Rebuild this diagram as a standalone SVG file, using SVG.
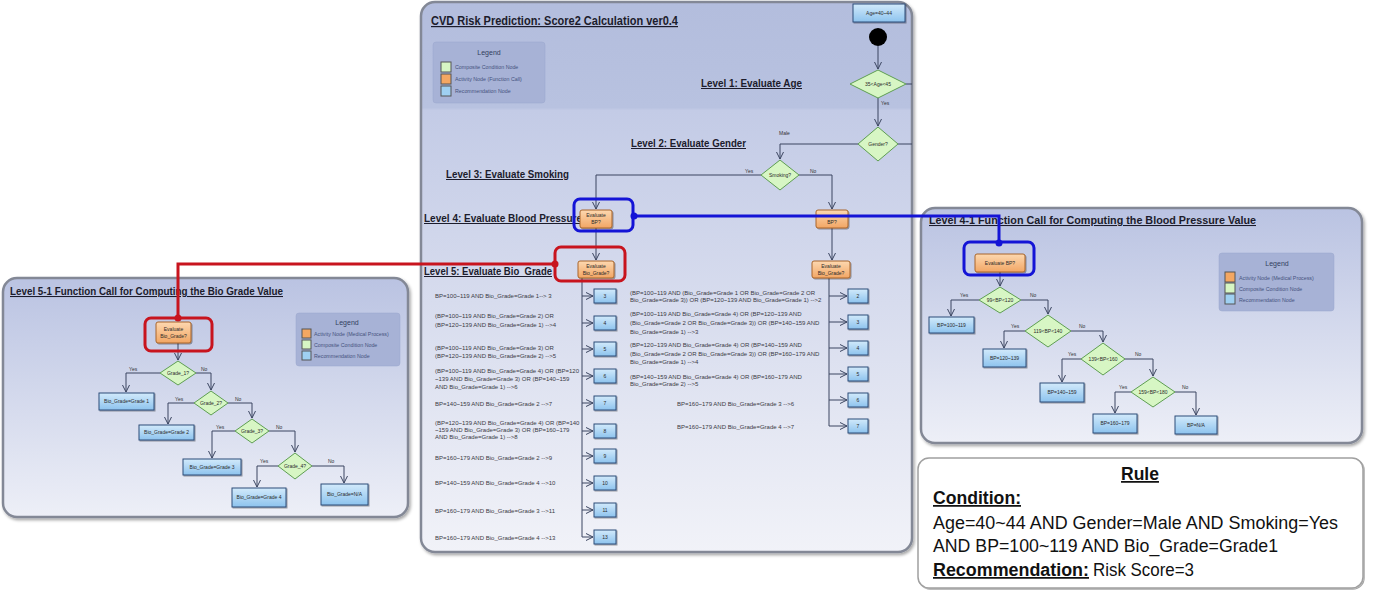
<svg xmlns="http://www.w3.org/2000/svg" width="1375" height="596" viewBox="0 0 1375 596">
<defs>
<linearGradient id="gC" x1="0" y1="0" x2="0" y2="1">
<stop offset="0" stop-color="#b3bddd"/><stop offset="0.192" stop-color="#b8c2e0"/><stop offset="0.197" stop-color="#c3cbe6"/><stop offset="1" stop-color="#f1f2f8"/>
</linearGradient>
<linearGradient id="gP" x1="0" y1="0" x2="0" y2="1"><stop offset="0" stop-color="#bac3e2"/><stop offset="1" stop-color="#edeff7"/></linearGradient>
<linearGradient id="gOr" x1="0" y1="0" x2="0" y2="1"><stop offset="0" stop-color="#fdd8b0"/><stop offset="1" stop-color="#f2a664"/></linearGradient>
<linearGradient id="gBl" x1="0" y1="0" x2="0" y2="1"><stop offset="0" stop-color="#d2eafb"/><stop offset="1" stop-color="#8dc3ee"/></linearGradient>
<filter id="sh" x="-5%" y="-5%" width="112%" height="115%"><feDropShadow dx="1.5" dy="2" stdDeviation="1.5" flood-color="#000" flood-opacity="0.35"/></filter>
<filter id="shs" x="-20%" y="-20%" width="150%" height="160%"><feDropShadow dx="1" dy="1" stdDeviation="0.6" flood-color="#000" flood-opacity="0.35"/></filter>
<marker id="ar" markerUnits="userSpaceOnUse" markerWidth="9" markerHeight="9" refX="8" refY="4.5" orient="auto"><path d="M1,1 L8,4.5 L1,8" fill="none" stroke="#3b4560" stroke-width="1"/></marker>
</defs>
<style>
.panel{stroke:#838896;stroke-width:2.5;filter:url(#sh)}
.ttl{font-family:"Liberation Sans",Arial,sans-serif;font-weight:bold;fill:#1c1c2c;text-decoration:underline}
.act{fill:url(#gOr);stroke:#a8642a;stroke-width:1;filter:url(#shs)}
.cond{fill:#d7f6c4;stroke:#5e9e52;stroke-width:1}
.rec{fill:url(#gBl);stroke:#2d4c78;stroke-width:1;filter:url(#shs)}
.nt{font-family:"Liberation Sans",Arial,sans-serif;font-size:5px;fill:#2a2a2a;text-anchor:middle}
.rt{font-family:"Liberation Sans",Arial,sans-serif;font-size:6px;fill:#3a3a44}
.lb{font-family:"Liberation Sans",Arial,sans-serif;font-size:5px;fill:#333}
.conn{fill:none;stroke:#3b4560;stroke-width:1}
.arr{marker-end:url(#ar)}
.leg{fill:#a7b2d6;stroke:#9aa6cc;stroke-width:0.5}
.legh{font-family:"Liberation Sans",Arial,sans-serif;font-size:7px;fill:#33405e;text-anchor:middle}
.legt{font-family:"Liberation Sans",Arial,sans-serif;font-size:5.3px;fill:#46527e}
.hb{fill:none;stroke:#1414d6;stroke-width:3}
.hr{fill:none;stroke:#c8141e;stroke-width:3}
.rule{font-family:"Liberation Sans",Arial,sans-serif;font-size:17.5px;fill:#111}
</style>
<rect width="1375" height="596" fill="#ffffff"/>

<!-- Panels -->
<g id="panel-left"><rect class="panel" x="3" y="278" width="405" height="239" rx="14" fill="url(#gP)"/>
<text class="ttl" x="10" y="295" font-size="10.5" textLength="273" lengthAdjust="spacingAndGlyphs">Level 5-1 Function Call for Computing the Bio Grade Value</text></g>
<g id="panel-center"><rect class="panel" x="421" y="2" width="491" height="550" rx="14" fill="url(#gC)"/>
<text class="ttl" x="431" y="25" font-size="12" textLength="247" lengthAdjust="spacingAndGlyphs">CVD Risk Prediction: Score2 Calculation ver0.4</text>
<text class="ttl" x="701" y="87" font-size="10" textLength="101" lengthAdjust="spacingAndGlyphs">Level 1: Evaluate Age</text>
<text class="ttl" x="631" y="147" font-size="10" textLength="115" lengthAdjust="spacingAndGlyphs">Level 2: Evaluate Gender</text>
<text class="ttl" x="446" y="178" font-size="10" textLength="123" lengthAdjust="spacingAndGlyphs">Level 3: Evaluate Smoking</text>
<text class="ttl" x="424" y="222" font-size="10" textLength="158" lengthAdjust="spacingAndGlyphs">Level 4: Evaluate Blood Pressure</text>
<text class="ttl" x="424" y="275" font-size="10" textLength="128" lengthAdjust="spacingAndGlyphs">Level 5: Evaluate Bio_Grade</text>
</g>
<g id="panel-right"><rect class="panel" x="921" y="208" width="441" height="235" rx="14" fill="url(#gP)"/>
<text class="ttl" x="929" y="224" font-size="10.5" textLength="327" lengthAdjust="spacingAndGlyphs">Level 4-1 Function Call for Computing the Blood Pressure Value</text></g>

<!-- Legends -->
<g id="legend-center"><rect class="leg" x="433" y="42" width="112" height="61" rx="3"/>
<text class="legh" x="489" y="55">Legend</text>
<rect x="441" y="62" width="10" height="10" fill="#d7f6c4" stroke="#555"/>
<rect x="441" y="74" width="10" height="10" fill="#f4a762" stroke="#555"/>
<rect x="441" y="86" width="10" height="10" fill="#9fd0f2" stroke="#555"/>
<text class="legt" x="455" y="69">Composite Condition Node</text>
<text class="legt" x="455" y="81">Activity Node (Function Call)</text>
<text class="legt" x="455" y="93">Recommendation Node</text></g>
<g id="legend-left"><rect class="leg" x="296" y="313" width="104" height="53" rx="3"/>
<text class="legh" x="347" y="325">Legend</text>
<rect x="302" y="329" width="9" height="9" fill="#f4a762" stroke="#555"/>
<rect x="302" y="340" width="9" height="9" fill="#d7f6c4" stroke="#555"/>
<rect x="302" y="351" width="9" height="9" fill="#9fd0f2" stroke="#555"/>
<text class="legt" x="314" y="336">Activity Node (Medical Process)</text>
<text class="legt" x="314" y="347">Composite Condition Node</text>
<text class="legt" x="314" y="358">Recommendation Node</text></g>
<g id="legend-right"><rect class="leg" x="1219" y="253" width="115" height="58" rx="3"/>
<text class="legh" x="1277" y="266">Legend</text>
<rect x="1225" y="272" width="10" height="10" fill="#f4a762" stroke="#555"/>
<rect x="1225" y="283" width="10" height="10" fill="#d7f6c4" stroke="#555"/>
<rect x="1225" y="294" width="10" height="10" fill="#9fd0f2" stroke="#555"/>
<text class="legt" x="1239" y="280">Activity Node (Medical Process)</text>
<text class="legt" x="1239" y="291">Composite Condition Node</text>
<text class="legt" x="1239" y="302">Recommendation Node</text></g>

<!-- Connectors -->
<g id="connectors">
<path class="conn arr" d="M878,46 V69"/>
<path class="conn arr" d="M878,98 V126"/>
<path class="conn" d="M906,84 H912"/>
<path class="conn" d="M898,144 H912"/>
<path class="conn arr" d="M858,144 H780 V159"/>
<path class="conn arr" d="M761,175 H596 V209"/>
<path class="conn arr" d="M799,175 H832 V209"/>
<path class="conn arr" d="M596,228 V260"/>
<path class="conn arr" d="M832,228 V260"/>
<path class="conn" d="M582,278 V537"/>
<path class="conn arr" d="M582,296 H593"/><path class="conn arr" d="M582,323 H593"/><path class="conn arr" d="M582,349 H593"/><path class="conn arr" d="M582,376 H593"/><path class="conn arr" d="M582,403 H593"/><path class="conn arr" d="M582,431 H593"/><path class="conn arr" d="M582,456 H593"/><path class="conn arr" d="M582,483 H593"/><path class="conn arr" d="M582,510 H593"/><path class="conn arr" d="M582,537 H593"/>
<path class="conn" d="M829,278 V426"/>
<path class="conn arr" d="M829,296 H847"/><path class="conn arr" d="M829,322 H847"/><path class="conn arr" d="M829,348 H847"/><path class="conn arr" d="M829,374 H847"/><path class="conn arr" d="M829,400 H847"/><path class="conn arr" d="M829,426 H847"/>
<path class="conn arr" d="M178,343 V360"/>
<path class="conn arr" d="M160,373 H126 V392"/>
<path class="conn arr" d="M196,373 H211 V390"/>
<path class="conn arr" d="M194,403 H168 V424"/>
<path class="conn arr" d="M228,403 H252 V418"/>
<path class="conn arr" d="M235,431 H212 V458"/>
<path class="conn arr" d="M269,431 H295 V452"/>
<path class="conn arr" d="M278,466 H257 V487"/>
<path class="conn arr" d="M312,466 H344 V483"/>
<path class="conn arr" d="M1000,272 V286"/>
<path class="conn arr" d="M979,300 H951 V316"/>
<path class="conn arr" d="M1021,300 H1048 V314"/>
<path class="conn arr" d="M1025,331 H1004 V348"/>
<path class="conn arr" d="M1071,331 H1103 V342"/>
<path class="conn arr" d="M1081,359 H1062 V382"/>
<path class="conn arr" d="M1125,359 H1153 V376"/>
<path class="conn arr" d="M1131,392 H1115 V413"/>
<path class="conn arr" d="M1175,392 H1196 V415"/>
<text class="lb" x="881" y="105">Yes</text>
<text class="lb" x="779" y="135">Male</text>
<text class="lb" x="745" y="173">Yes</text>
<text class="lb" x="810" y="173">No</text>
<text class="lb" x="129" y="371">Yes</text>
<text class="lb" x="201" y="371">No</text>
<text class="lb" x="175" y="401">Yes</text>
<text class="lb" x="235" y="401">No</text>
<text class="lb" x="216" y="429">Yes</text>
<text class="lb" x="276" y="429">No</text>
<text class="lb" x="260" y="463">Yes</text>
<text class="lb" x="328" y="463">No</text>
<text class="lb" x="960" y="297">Yes</text>
<text class="lb" x="1030" y="297">No</text>
<text class="lb" x="1011" y="328">Yes</text>
<text class="lb" x="1079" y="328">No</text>
<text class="lb" x="1068" y="356">Yes</text>
<text class="lb" x="1135" y="356">No</text>
<text class="lb" x="1119" y="389">Yes</text>
<text class="lb" x="1182" y="389">No</text>
</g>

<!-- Center nodes -->
<g id="n-agebox"><rect class="rec" x="853" y="4" width="52" height="18"/><text class="nt" x="879" y="15">Age=40~44</text></g>
<g id="n-start"><circle cx="878" cy="37" r="9" fill="#000"/></g>
<g id="n-age"><polygon class="cond" points="850,84 878,70 906,84 878,98"/><text class="nt" x="878" y="86">35&lt;Age&lt;45</text></g>
<g id="n-gender"><polygon class="cond" points="858,144 878,127 898,144 878,161"/><text class="nt" x="878" y="146">Gender?</text></g>
<g id="n-smoking"><polygon class="cond" points="761,175 780,160 799,175 780,190"/><text class="nt" x="780" y="177">Smoking?</text></g>
<g id="n-bp-yes"><rect class="act" x="580" y="210" width="32" height="18" rx="2"/><text class="nt" x="596" y="217">Evaluate</text><text class="nt" x="596" y="224">BP?</text></g>
<g id="n-bp-no"><rect class="act" x="816" y="210" width="32" height="18" rx="2"/><text class="nt" x="832" y="224">BP?</text></g>
<g id="n-bio-yes"><rect class="act" x="578" y="261" width="36" height="17" rx="2"/><text class="nt" x="596" y="268">Evaluate</text><text class="nt" x="596" y="275">Bio_Grade?</text></g>
<g id="n-bio-no"><rect class="act" x="812" y="261" width="38" height="17" rx="2"/><text class="nt" x="831" y="268">Evaluate</text><text class="nt" x="831" y="275">Bio_Grade?</text></g>

<g id="res-left">
<g id="r-l3"><rect class="rec" x="594" y="289" width="22" height="14"/><text class="nt" x="605" y="298">3</text></g>
<g id="r-l4"><rect class="rec" x="594" y="316" width="22" height="14"/><text class="nt" x="605" y="325">4</text></g>
<g id="r-l5"><rect class="rec" x="594" y="342" width="22" height="14"/><text class="nt" x="605" y="351">5</text></g>
<g id="r-l6"><rect class="rec" x="594" y="369" width="22" height="14"/><text class="nt" x="605" y="378">6</text></g>
<g id="r-l7"><rect class="rec" x="594" y="396" width="22" height="14"/><text class="nt" x="605" y="405">7</text></g>
<g id="r-l8"><rect class="rec" x="594" y="424" width="22" height="14"/><text class="nt" x="605" y="433">8</text></g>
<g id="r-l9"><rect class="rec" x="594" y="449" width="22" height="14"/><text class="nt" x="605" y="458">9</text></g>
<g id="r-l10"><rect class="rec" x="594" y="476" width="22" height="14"/><text class="nt" x="605" y="485">10</text></g>
<g id="r-l11"><rect class="rec" x="594" y="503" width="22" height="14"/><text class="nt" x="605" y="512">11</text></g>
<g id="r-l13"><rect class="rec" x="594" y="530" width="22" height="14"/><text class="nt" x="605" y="539">13</text></g>
</g>
<g id="res-right">
<g id="r-r2"><rect class="rec" x="848" y="289" width="20" height="14"/><text class="nt" x="858" y="298">2</text></g>
<g id="r-r3"><rect class="rec" x="848" y="315" width="20" height="14"/><text class="nt" x="858" y="324">3</text></g>
<g id="r-r4"><rect class="rec" x="848" y="341" width="20" height="14"/><text class="nt" x="858" y="350">4</text></g>
<g id="r-r5"><rect class="rec" x="848" y="367" width="20" height="14"/><text class="nt" x="858" y="376">5</text></g>
<g id="r-r6"><rect class="rec" x="848" y="393" width="20" height="14"/><text class="nt" x="858" y="402">6</text></g>
<g id="r-r7"><rect class="rec" x="848" y="419" width="20" height="14"/><text class="nt" x="858" y="428">7</text></g>
</g>

<g id="rules-left">
<text class="rt" x="435" y="298">BP=100~119 AND Bio_Grade=Grade 1--&gt; 3</text>
<text class="rt" x="435" y="318">(BP=100~119 AND Bio_Grade=Grade 2) OR<tspan x="435" y="327">(BP=120~139 AND Bio_Grade=Grade 1) --&gt;4</tspan></text>
<text class="rt" x="435" y="350">(BP=100~119 AND Bio_Grade=Grade 3) OR<tspan x="435" y="358">(BP=120~139 AND Bio_Grade=Grade 2) --&gt;5</tspan></text>
<text class="rt" x="435" y="373">(BP=100~119 AND Bio_Grade=Grade 4) OR  (BP=120<tspan x="435" y="381">~139 AND Bio_Grade=Grade 3)  OR (BP=140~159</tspan><tspan x="435" y="389">AND Bio_Grade=Grade 1) --&gt;6</tspan></text>
<text class="rt" x="435" y="406">BP=140~159 AND Bio_Grade=Grade 2 --&gt;7</text>
<text class="rt" x="435" y="425">(BP=120~139 AND Bio_Grade=Grade 4) OR  (BP=140<tspan x="435" y="432">~159 AND Bio_Grade=Grade 3)  OR (BP=160~179</tspan><tspan x="435" y="439">AND Bio_Grade=Grade 1) --&gt;8</tspan></text>
<text class="rt" x="435" y="460">BP=160~179 AND Bio_Grade=Grade 2 --&gt;9</text>
<text class="rt" x="435" y="485">BP=140~159 AND Bio_Grade=Grade 4 --&gt;10</text>
<text class="rt" x="435" y="513">BP=160~179 AND Bio_Grade=Grade 3 --&gt;11</text>
<text class="rt" x="435" y="540">BP=160~179 AND Bio_Grade=Grade 4 --&gt;13</text>
</g>
<g id="rules-right">
<text class="rt" x="630" y="295">(BP=100~119 AND (Bio_Grade=Grade 1 OR Bio_Grade=Grade 2 OR<tspan x="630" y="302">Bio_Grade=Grade 3)) OR  (BP=120~139 AND Bio_Grade=Grade 1) --&gt;2</tspan></text>
<text class="rt" x="630" y="316">(BP=100~119 AND Bio_Grade=Grade 4) OR  (BP=120~139 AND<tspan x="630" y="325">(Bio_Grade=Grade 2 OR Bio_Grade=Grade 3))  OR (BP=140~159 AND</tspan><tspan x="630" y="334">Bio_Grade=Grade 1) --&gt;3</tspan></text>
<text class="rt" x="630" y="347">(BP=120~139 AND Bio_Grade=Grade 4) OR  (BP=140~159 AND<tspan x="630" y="356">(Bio_Grade=Grade 2 OR Bio_Grade=Grade 3))  OR (BP=160~179 AND</tspan><tspan x="630" y="364">Bio_Grade=Grade 1) --&gt;4</tspan></text>
<text class="rt" x="630" y="379">(BP=140~159 AND Bio_Grade=Grade 4) OR  (BP=160~179 AND<tspan x="630" y="386">Bio_Grade=Grade 2) --&gt;5</tspan></text>
<text class="rt" x="677" y="406">BP=160~179 AND Bio_Grade=Grade 3 --&gt;6</text>
<text class="rt" x="677" y="429">BP=160~179 AND Bio_Grade=Grade 4 --&gt;7</text>
</g>

<!-- Left panel nodes -->
<g id="l-eval"><rect class="act" x="156" y="322" width="35" height="21" rx="2"/><text class="nt" x="173.5" y="331">Evaluate</text><text class="nt" x="173.5" y="338">Bio_Grade?</text></g>
<g id="l-g1"><polygon class="cond" points="160,373 178,361 196,373 178,385"/><text class="nt" x="178" y="375">Grade_1?</text></g>
<g id="l-g1b"><rect class="rec" x="99" y="393" width="55" height="17"/><text class="nt" x="126.5" y="403">Bio_Grade=Grade 1</text></g>
<g id="l-g2"><polygon class="cond" points="194,403 211,391 228,403 211,415"/><text class="nt" x="211" y="405">Grade_2?</text></g>
<g id="l-g2b"><rect class="rec" x="139" y="425" width="55" height="15"/><text class="nt" x="166.5" y="434">Bio_Grade=Grade 2</text></g>
<g id="l-g3"><polygon class="cond" points="235,431 252,419 269,431 252,443"/><text class="nt" x="252" y="433">Grade_3?</text></g>
<g id="l-g3b"><rect class="rec" x="183" y="459" width="58" height="16"/><text class="nt" x="212" y="469">Bio_Grade=Grade 3</text></g>
<g id="l-g4"><polygon class="cond" points="278,466 295,453 312,466 295,479"/><text class="nt" x="295" y="468">Grade_4?</text></g>
<g id="l-g4b"><rect class="rec" x="232" y="488" width="54" height="19"/><text class="nt" x="259" y="499">Bio_Grade=Grade 4</text></g>
<g id="l-na"><rect class="rec" x="321" y="484" width="47" height="21"/><text class="nt" x="344.5" y="496">Bio_Grade=N/A</text></g>

<!-- Right panel nodes -->
<g id="r-eval"><rect class="act" x="975" y="254" width="50" height="18" rx="2"/><text class="nt" x="1000" y="265">Evaluate BP?</text></g>
<g id="r-d1"><polygon class="cond" points="979,300 1000,287 1021,300 1000,313"/><text class="nt" x="1000" y="302">99&lt;BP&lt;120</text></g>
<g id="r-b1"><rect class="rec" x="929" y="317" width="45" height="16"/><text class="nt" x="951.5" y="327">BP=100~119</text></g>
<g id="r-d2"><polygon class="cond" points="1025,331 1048,315 1071,331 1048,347"/><text class="nt" x="1048" y="333">119&lt;BP&lt;140</text></g>
<g id="r-b2"><rect class="rec" x="983" y="349" width="43" height="18"/><text class="nt" x="1004.5" y="360">BP=120~139</text></g>
<g id="r-d3"><polygon class="cond" points="1081,359 1103,343 1125,359 1103,375"/><text class="nt" x="1103" y="361">139&lt;BP&lt;160</text></g>
<g id="r-b3"><rect class="rec" x="1040" y="383" width="44" height="19"/><text class="nt" x="1062" y="394">BP=140~159</text></g>
<g id="r-d4"><polygon class="cond" points="1131,392 1153,377 1175,392 1153,407"/><text class="nt" x="1153" y="394">159&lt;BP&lt;180</text></g>
<g id="r-b4"><rect class="rec" x="1093" y="414" width="44" height="19"/><text class="nt" x="1115" y="425">BP=160~179</text></g>
<g id="r-b5"><rect class="rec" x="1175" y="416" width="42" height="18"/><text class="nt" x="1196" y="427">BP=N/A</text></g>

<!-- Highlights -->
<g id="highlight-blue">
<rect class="hb" x="574" y="199" width="59" height="32" rx="6"/>
<rect class="hb" x="964" y="242" width="70" height="33" rx="6"/>
<path class="hb" d="M634,216 H999 V243"/>
<circle cx="634" cy="216" r="3.5" fill="#1414d6"/><circle cx="999" cy="243" r="3.5" fill="#1414d6"/>
</g>
<g id="highlight-red">
<rect class="hr" x="555" y="247" width="70" height="34" rx="6"/>
<rect class="hr" x="145" y="318" width="67" height="33" rx="6"/>
<path class="hr" d="M555,264 H178 V318"/>
<circle cx="555" cy="264" r="3.5" fill="#c8141e"/><circle cx="178" cy="318" r="3.5" fill="#c8141e"/>
</g>

<!-- Rule box -->
<g id="rule-box">
<rect x="918" y="458" width="445" height="130" rx="11" fill="#fff" stroke="#a0a0a0" stroke-width="1.5" filter="url(#shs)"/>
<text class="rule" x="1140" y="480" font-weight="bold" text-anchor="middle" text-decoration="underline">Rule</text>
<text class="rule" x="933" y="504" font-weight="bold" text-decoration="underline" textLength="88" lengthAdjust="spacingAndGlyphs">Condition:</text>
<text class="rule" x="933" y="529" textLength="405" lengthAdjust="spacingAndGlyphs">Age=40~44 AND Gender=Male  AND Smoking=Yes</text>
<text class="rule" x="933" y="552" textLength="345" lengthAdjust="spacingAndGlyphs">AND BP=100~119 AND Bio_Grade=Grade1</text>
<text class="rule" x="933" y="576" font-weight="bold" text-decoration="underline" textLength="156" lengthAdjust="spacingAndGlyphs">Recommendation:</text>
<text class="rule" x="1093" y="576" textLength="101" lengthAdjust="spacingAndGlyphs">Risk Score=3</text>
</g>
</svg>
